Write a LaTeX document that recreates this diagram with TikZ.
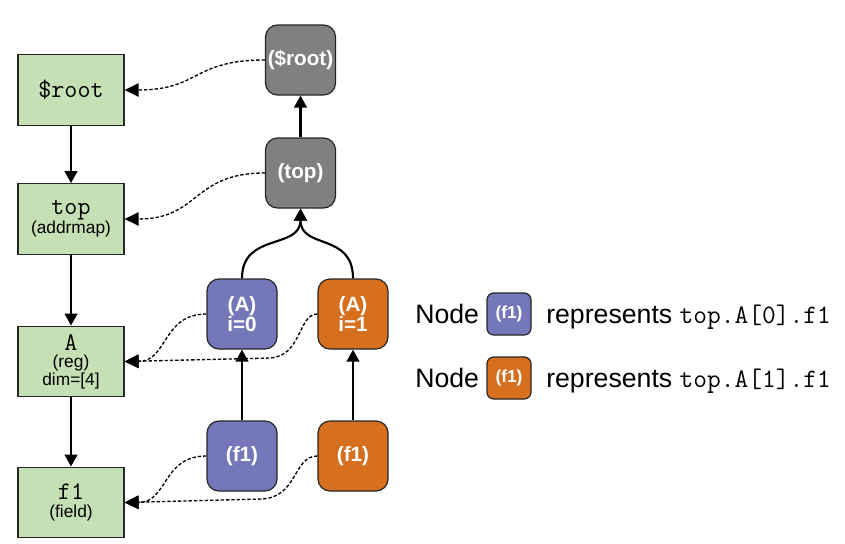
\documentclass[tikz,border=0pt]{standalone}
\usepackage{fontspec}
\setmainfont{Liberation Sans}
\usepackage{tikz}
\usetikzlibrary{arrows.meta,positioning}

\definecolor{regfill}{RGB}{197,224,180}
\definecolor{rootgray}{RGB}{128,128,128}
\definecolor{instblue}{RGB}{116,120,184}
\definecolor{instorange}{RGB}{214,112,30}

\tikzset{
  regbox/.style={draw=black!85,line width=0.9pt,fill=regfill,minimum width=79.5pt,minimum height=53pt,inner sep=1pt,align=center,text=black},
  instbox/.style={draw=black!85,line width=0.9pt,rounded corners=9pt,minimum width=52.5pt,minimum height=52.5pt,inner sep=0pt,align=center,text=white,font=\fontsize{15.5}{15}\selectfont\bfseries},
  legbox/.style={instbox,rounded corners=5pt,minimum width=33pt,minimum height=31.5pt,font=\fontsize{13}{13}\selectfont\bfseries},
  legtext/.style={inner sep=0pt,font=\fontsize{20}{24}\selectfont},
  solidarrow/.style={line width=1.6pt,-{Triangle[length=9pt,width=9.5pt]}},
  linkarrow/.style={line width=1pt,dash pattern=on 2.5pt off 1.5pt,-{Triangle[length=10.5pt,width=10pt]}},
}

\begin{document}
\begin{tikzpicture}[x=0.75pt,y=0.75pt,yscale=-1,xscale=1]
        \useasboundingbox (0,0) rectangle (845,543);

        % Register model column
        \node[regbox] (mroot) at (71,90) {\fontsize{19}{20}\selectfont\ttfamily \$root};
        \node[regbox,font=\fontsize{13}{13}\selectfont] (mtop) at (71,219) {{\fontsize{19}{18}\selectfont\ttfamily top}\\(addrmap)};
        \node[regbox,font=\fontsize{13}{11.5}\selectfont] (mA) at (71,361.5) {{\fontsize{19}{18}\selectfont\ttfamily A}\\[1.5pt](reg)\\dim=[4]};
        \node[regbox,font=\fontsize{13}{13}\selectfont] (mf1) at (71,502.5) {{\fontsize{19}{18}\selectfont\ttfamily f1}\\(field)};

        % Instance tree
        \node[instbox,fill=rootgray] (iroot) at (300.5,60) {(\$root)};
        \node[instbox,fill=rootgray] (itop) at (300.5,173) {(top)};
        \node[instbox,fill=instblue] (iA0) at (242,314) {(A)\\i=0};
        \node[instbox,fill=instorange] (iA1) at (353,314) {(A)\\i=1};
        \node[instbox,fill=instblue] (if0) at (242,456) {(f1)};
        \node[instbox,fill=instorange] (if1) at (353,456) {(f1)};

        % Legend
        \node[legtext,anchor=base west] (leg0) at (415,323) {Node};
        \node[legbox,fill=instblue] (leg0box) at (509,314) {(f1)};
        \node[legtext,anchor=base west] (leg0rep) at (546,323) {represents \fontsize{20}{24}\selectfont\ttfamily top.A[0].f1};
        \node[legtext,anchor=base west] (leg1) at (415,387) {Node};
        \node[legbox,fill=instorange] (leg1box) at (509,378) {(f1)};
        \node[legtext,anchor=base west] (leg1rep) at (546,387) {represents \fontsize{20}{24}\selectfont\ttfamily top.A[1].f1};

        % Model hierarchy
        \draw[solidarrow] (mroot) -- (mtop);
        \draw[solidarrow] (mtop) -- (mA);
        \draw[solidarrow] (mA) -- (mf1);

        % Instance parents
        \draw[solidarrow] (itop) -- (iroot);
        \draw[solidarrow] (iA0.north) .. controls (242,232) and (300.5,250) .. (itop.south);
        \draw[solidarrow] (iA1.north) .. controls (353,232) and (300.5,250) .. (itop.south);
        \draw[solidarrow] (if0) -- (iA0);
        \draw[solidarrow] (if1) -- (iA1);

        % Instance to model links
        \draw[linkarrow] (iroot.west) .. controls (192,60) and (200,90) .. (mroot.east);
        \draw[linkarrow] (itop.west) .. controls (192,173) and (200,219) .. (mtop.east);
        \draw[linkarrow] (iA0.west) .. controls (162,314) and (168,361.5) .. (mA.east);
        \draw[linkarrow] (iA1.west) .. controls (298,314) and (302,356) .. (270,358) -- (mA.east);
        \draw[linkarrow] (if0.west) .. controls (162,456) and (168,502.5) .. (mf1.east);
        \draw[linkarrow] (if1.west) .. controls (293,456) and (298,497) .. (262,499) -- (mf1.east);

\end{tikzpicture}
\end{document}
